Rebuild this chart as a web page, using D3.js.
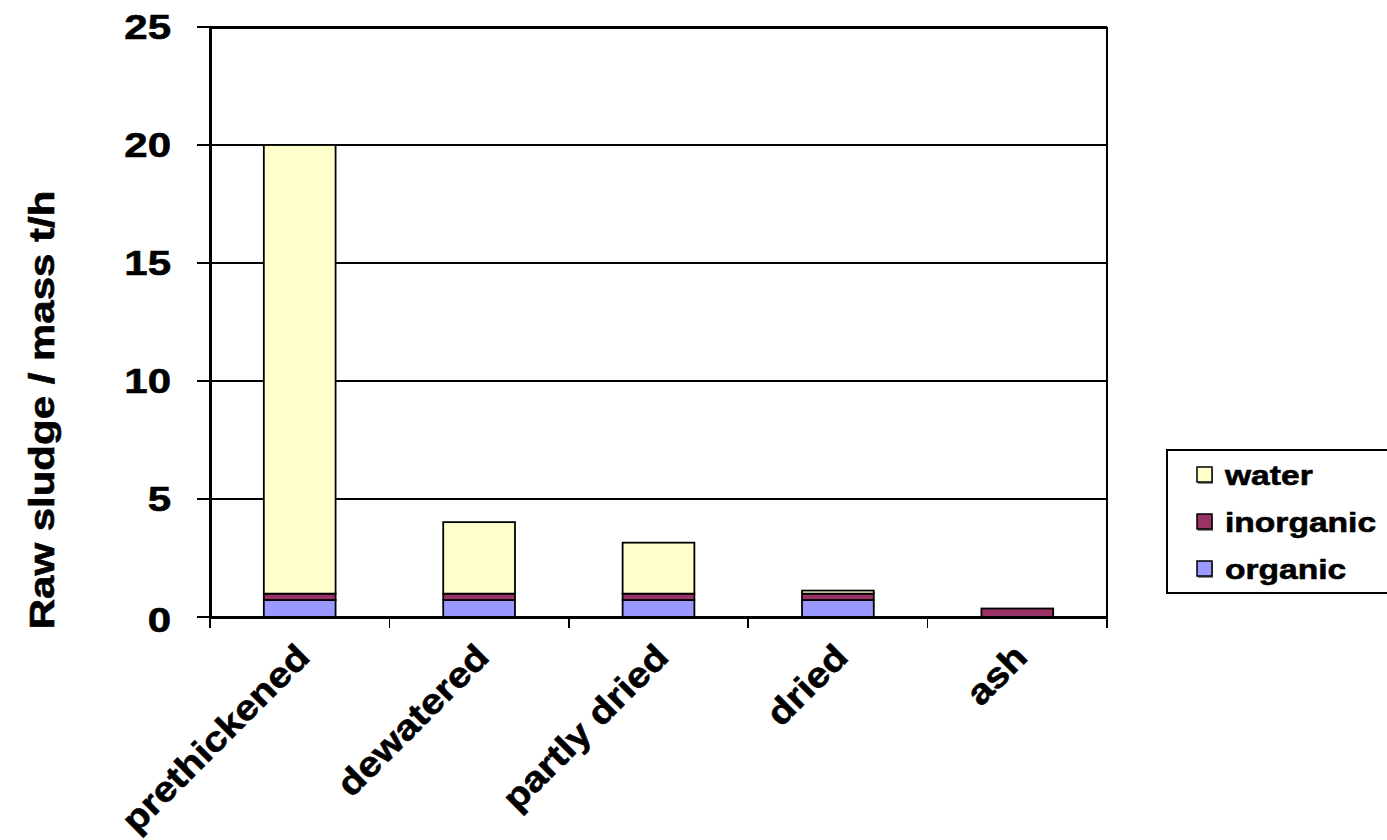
<!DOCTYPE html>
<html>
<head>
<meta charset="utf-8">
<script src="https://cdn.jsdelivr.net/npm/d3@7"></script>
<style>
  body { margin: 0; background: #fff; }
  text { font-family: "Liberation Sans", Arial, sans-serif; font-weight: bold; fill: #000;
         stroke: #000; stroke-width: 0.6px; }
</style>
</head>
<body>
<svg width="1387" height="840"></svg>
<script>
// categories and stacked series (t/h)
const categories = ['prethickened', 'dewatered', 'partly dried', 'dried', 'ash'];
const organic = [0.72, 0.72, 0.72, 0.72, 0];
const inorganic = [0.27, 0.27, 0.27, 0.27, 0.36];
const water = [19.01, 3.03, 2.16, 0.13, 0];
const yTicks = [0, 5, 10, 15, 20, 25];

const seriesKeys = ['organic', 'inorganic', 'water'];
const colors = { organic: '#9999FF', inorganic: '#993366', water: '#FFFFCC' };
const legendOrder = ['water', 'inorganic', 'organic'];

const rows = categories.map((c, i) => ({
  cat: c, organic: organic[i], inorganic: inorganic[i], water: water[i]
}));

const svg = d3.select('svg');
const plotLeft = 210, plotRight = 1107, plotTop = 27, plotBottom = 617;
const stretch = 1.2; // text in the picture is wide

const x = d3.scaleBand().domain(categories).range([plotLeft, plotRight])
  .paddingInner(0.6).paddingOuter(0.3);
const xStep = d3.scaleBand().domain(categories).range([plotLeft, plotRight]);
const y = d3.scaleLinear().domain([0, 25]).range([plotBottom, plotTop]);

// gridlines
svg.append('g')
  .attr('shape-rendering', 'crispEdges')
  .selectAll('line')
  .data(yTicks.filter((d) => d > 0))
  .join('line')
  .attr('x1', plotLeft).attr('x2', plotRight)
  .attr('y1', (d) => y(d)).attr('y2', (d) => y(d))
  .attr('stroke', '#000')
  .attr('stroke-width', (d) => (d === 25 ? 3 : 1.5));

// right border
svg.append('line')
  .attr('shape-rendering', 'crispEdges')
  .attr('x1', plotRight).attr('x2', plotRight).attr('y1', plotTop).attr('y2', plotBottom)
  .attr('stroke', '#000').attr('stroke-width', 2);

// bars
const stacked = d3.stack().keys(seriesKeys)(rows);
svg.append('g')
  .selectAll('g')
  .data(stacked)
  .join('g')
  .attr('fill', (s) => colors[s.key])
  .selectAll('rect')
  .data((s) => s.filter((d) => d[1] - d[0] > 0))
  .join('rect')
  .attr('x', (d) => x(d.data.cat))
  .attr('width', x.bandwidth())
  .attr('y', (d) => y(d[1]))
  .attr('height', (d) => y(d[0]) - y(d[1]))
  .attr('stroke', '#000')
  .attr('stroke-width', 1.8);

// y axis
svg.append('line')
  .attr('shape-rendering', 'crispEdges')
  .attr('x1', plotLeft).attr('x2', plotLeft).attr('y1', plotTop).attr('y2', plotBottom)
  .attr('stroke', '#000').attr('stroke-width', 3);
svg.append('g')
  .attr('shape-rendering', 'crispEdges')
  .selectAll('line')
  .data(yTicks)
  .join('line')
  .attr('x1', plotLeft - 13).attr('x2', plotLeft)
  .attr('y1', (d) => y(d)).attr('y2', (d) => y(d))
  .attr('stroke', '#000').attr('stroke-width', 1.5);
svg.append('g')
  .selectAll('text')
  .data(yTicks)
  .join('text')
  .attr('transform', (d) => `translate(171,${y(d) + (d === 0 ? 15 : 12)}) scale(${stretch},1)`)
  .attr('text-anchor', 'end')
  .attr('font-size', 35)
  .text((d) => d);

// x axis
svg.append('line')
  .attr('shape-rendering', 'crispEdges')
  .attr('x1', plotLeft).attr('x2', plotRight).attr('y1', plotBottom).attr('y2', plotBottom)
  .attr('stroke', '#000').attr('stroke-width', 3);
const bounds = categories.map((c) => xStep(c)).concat([plotRight]);
svg.append('g')
  .attr('shape-rendering', 'crispEdges')
  .selectAll('line')
  .data(bounds)
  .join('line')
  .attr('x1', (d) => d).attr('x2', (d) => d)
  .attr('y1', plotBottom).attr('y2', plotBottom + 11)
  .attr('stroke', '#000').attr('stroke-width', 1.5);
svg.append('g')
  .selectAll('text')
  .data(categories)
  .join('text')
  .attr('transform', (d) =>
    `translate(${xStep(d) + xStep.bandwidth() / 2 + 12},${plotBottom + 42}) rotate(-45) scale(1.14,1)`)
  .attr('text-anchor', 'end')
  .attr('font-size', 35)
  .text((d) => d);

// y axis title
svg.append('text')
  .attr('transform', `translate(54,410) rotate(-90) scale(${stretch},1)`)
  .attr('text-anchor', 'middle')
  .attr('font-size', 35)
  .text('Raw sludge / mass t/h');

// legend
const legend = svg.append('g');
legend.append('rect')
  .attr('x', 1167).attr('y', 450).attr('width', 240).attr('height', 143)
  .attr('fill', '#fff').attr('stroke', '#000').attr('stroke-width', 2);
const item = legend.selectAll('g.item')
  .data(legendOrder)
  .join('g')
  .attr('class', 'item')
  .attr('transform', (d, i) => `translate(1197,${475 + i * 47})`);
item.append('rect')
  .attr('x', 1).attr('y', -6).attr('width', 15).attr('height', 15)
  .attr('fill', '#888');
item.append('rect')
  .attr('x', 0).attr('y', -8).attr('width', 15).attr('height', 15)
  .attr('fill', (d) => colors[d])
  .attr('stroke', '#000').attr('stroke-width', 1.5);
item.append('text')
  .attr('transform', `translate(28,10) scale(${stretch},1)`)
  .attr('font-size', 28)
  .text((d) => d);
</script>
</body>
</html>
